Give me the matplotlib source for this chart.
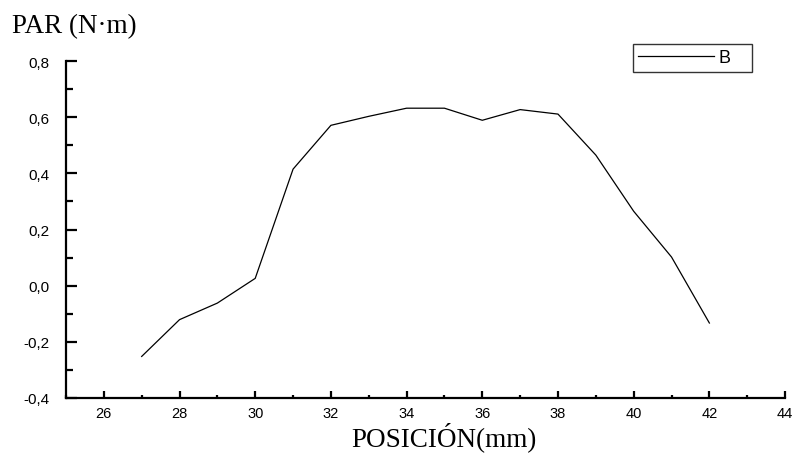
import matplotlib
matplotlib.use('Agg')
import matplotlib.pyplot as plt
from matplotlib.ticker import MultipleLocator, FuncFormatter

posicion = [27, 28, 29, 30, 31, 32, 33, 34, 35, 36, 37, 38, 39, 40, 41, 42]
par = [-0.252, -0.121, -0.062, 0.026, 0.415, 0.571, 0.603, 0.632, 0.632,
       0.589, 0.627, 0.611, 0.465, 0.265, 0.102, -0.133]

fig = plt.figure(figsize=(7.95, 4.56), dpi=100, facecolor='white')
ax = fig.add_axes((0.083, 0.125, 0.9045, 0.739))

ax.plot(posicion, par, color='black', lw=0.9, label='B')

ax.set_xlim(25, 44)
ax.set_ylim(-0.4, 0.8)
ax.xaxis.set_major_locator(MultipleLocator(2))
ax.xaxis.set_minor_locator(MultipleLocator(1))
ax.yaxis.set_major_locator(MultipleLocator(0.2))
ax.yaxis.set_minor_locator(MultipleLocator(0.1))

ax.xaxis.set_major_formatter(FuncFormatter(lambda v, p: '' if v < 26 else '%d' % v))
ax.yaxis.set_major_formatter(FuncFormatter(lambda v, p: ('%.1f' % v).replace('.', ',').replace('-0,0', '0,0')))

for s in ['top', 'right']:
    ax.spines[s].set_visible(False)
for s in ['left', 'bottom']:
    ax.spines[s].set_linewidth(1.6)

ax.tick_params(axis='y', which='major', direction='in', length=8, width=1.6, pad=12, labelsize=11)
ax.tick_params(axis='y', which='minor', direction='in', length=5, width=1.6)
ax.tick_params(axis='x', which='major', direction='in', length=5, width=1.6, pad=6, labelsize=10.5)
ax.tick_params(axis='x', which='minor', direction='in', length=2.5, width=1.6)
for lab in ax.get_xticklabels() + ax.get_yticklabels():
    lab.set_family('Liberation Sans')

ax.set_xlabel('POSICIÓN(mm)', family='Liberation Serif', fontsize=19.5, labelpad=1)
ax.xaxis.label.set_x(0.526)
fig.text(0.015, 0.927, 'PAR (N·m)', family='Liberation Serif', fontsize=19.5)

leg = ax.legend(['B   '], loc='upper left', bbox_to_anchor=(633 / 795, 1 - 45 / 456),
                bbox_transform=fig.transFigure, frameon=True, fancybox=False,
                handlelength=4.2, borderpad=0.3, handletextpad=0.28,
                borderaxespad=0,
                prop={'family': 'Liberation Sans', 'size': 13})
leg.get_frame().set_edgecolor('black')
leg.get_frame().set_linewidth(1.0)

fig.savefig('out.png', dpi=100, facecolor='white')
